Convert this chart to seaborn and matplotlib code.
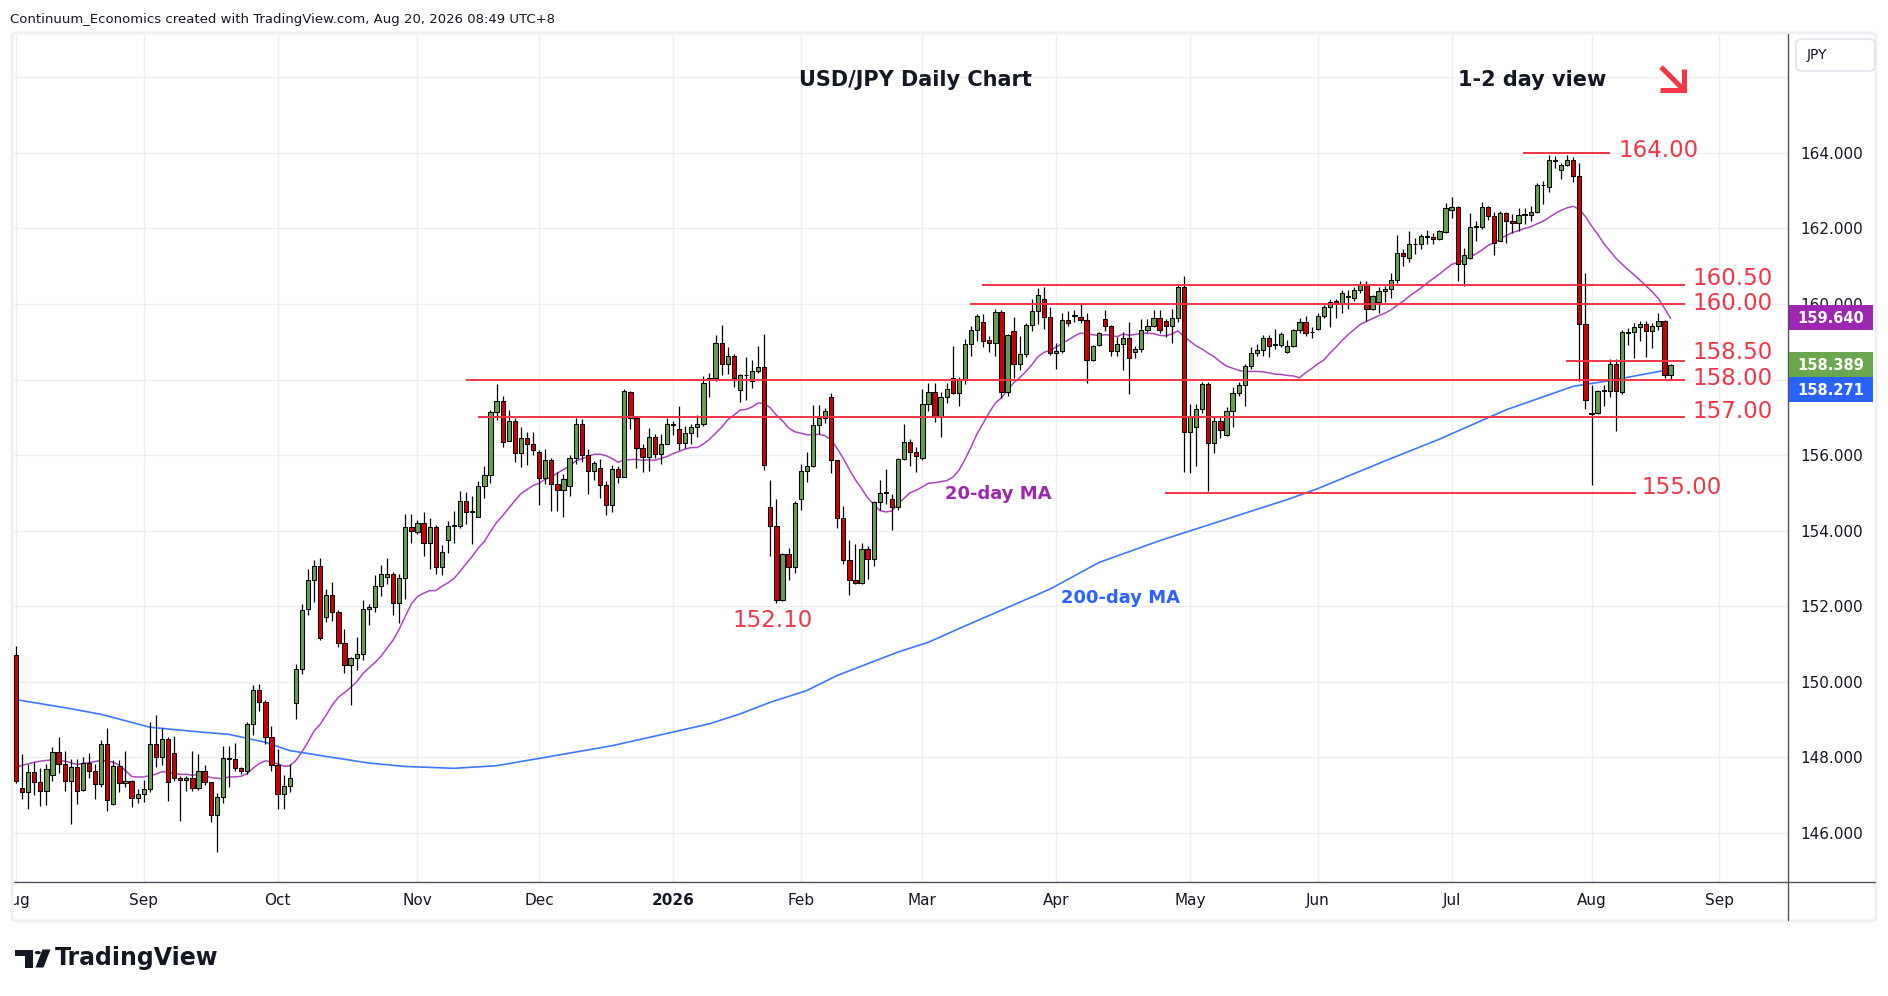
import numpy as np
import pandas as pd
import matplotlib
matplotlib.use("Agg")
import matplotlib.pyplot as plt
import seaborn as sns
from matplotlib.patches import Rectangle, FancyBboxPatch, Polygon, Circle
from matplotlib.lines import Line2D
from matplotlib.transforms import Bbox, TransformedBbox

# ---- daily USD/JPY candles, Aug 1 2025 .. Aug 20 2026 ----
opens = [
    150.71, 147.17, 147.08, 147.61, 147.33, 147.10, 147.53, 148.14, 147.82, 147.37,
    147.74, 147.12, 147.84, 147.63, 147.29, 148.35, 146.76, 147.77, 147.32, 147.37,
    146.92, 147.02, 147.16, 148.35, 148.00, 148.49, 148.11, 147.45, 147.40, 147.45,
    147.18, 147.63, 147.33, 146.47, 146.94, 147.98, 147.95, 147.71, 147.63, 148.88,
    149.78, 149.46, 148.53, 147.80, 147.02, 147.24, 149.43, 150.34, 151.91, 152.68,
    153.05, 151.72, 152.28, 151.83, 151.03, 150.43, 150.61, 150.74, 151.93, 151.97,
    152.54, 152.76, 152.86, 152.09, 152.73, 154.10, 153.95, 154.20, 153.66, 154.10,
    153.04, 153.76, 154.12, 154.13, 154.79, 154.52, 154.37, 155.17, 155.46, 157.13,
    157.44, 156.38, 156.91, 156.04, 156.46, 156.29, 156.07, 155.40, 155.86, 155.23,
    155.07, 155.18, 155.93, 156.81, 156.01, 155.58, 155.65, 155.21, 154.67, 155.62,
    155.43, 157.67, 156.99, 156.19, 155.95, 156.47, 156.02, 156.30, 156.83, 156.68,
    156.31, 156.57, 156.74, 156.81, 157.99, 158.05, 158.98, 158.40, 158.61, 157.73,
    158.11, 157.97, 158.22, 158.32, 154.61, 154.12, 152.15, 153.37, 153.04, 154.83,
    155.57, 155.71, 156.79, 156.99, 157.53, 155.86, 154.34, 153.21, 152.68, 152.62,
    153.50, 153.25, 154.75, 155.00, 154.83, 154.63, 155.89, 156.34, 156.07, 155.91,
    157.35, 157.66, 157.02, 157.53, 158.03, 157.64, 158.01, 158.94, 159.31, 159.51,
    159.05, 158.97, 159.78, 157.66, 159.28, 158.41, 158.68, 159.44, 159.81, 160.13,
    159.65, 158.70, 158.76, 159.58, 159.70, 159.65, 159.58, 158.52, 158.92, 159.60,
    159.43, 158.76, 158.94, 159.09, 158.72, 158.81, 159.31, 159.43, 159.63, 159.55,
    159.41, 159.62, 160.44, 156.60, 156.75, 157.23, 157.88, 156.33, 156.90, 156.52,
    157.16, 157.63, 157.85, 158.37, 158.71, 158.79, 159.09, 158.92, 158.92, 158.73,
    158.88, 159.31, 159.51, 159.26, 159.35, 159.68, 159.91, 160.07, 160.01, 160.19,
    160.17, 160.37, 160.54, 159.88, 160.06, 160.34, 160.39, 160.63, 161.36, 161.23,
    161.58, 161.58, 161.80, 161.78, 161.71, 161.91, 162.50, 162.56, 161.07, 161.22,
    162.05, 162.05, 162.56, 162.32, 161.68, 162.40, 162.21, 162.15, 162.37, 162.37,
    162.44, 163.14, 163.11, 163.80, 163.56, 163.69, 163.82, 163.38, 159.48, 157.11,
    157.11, 157.69, 157.70, 158.41, 157.67, 159.24, 159.25, 159.38, 159.47, 159.28,
    159.41, 159.56, 158.13,
]
highs = [
    150.93, 148.08, 147.82, 147.87, 147.70, 147.82, 148.26, 148.53, 148.17, 147.95,
    147.95, 148.00, 148.11, 147.82, 148.44, 148.78, 147.92, 147.91, 148.16, 147.40,
    147.16, 147.38, 148.94, 149.12, 148.76, 148.53, 148.56, 147.49, 147.49, 148.17,
    148.07, 147.79, 147.35, 147.05, 148.29, 148.29, 148.38, 147.73, 148.92, 149.92,
    149.94, 149.51, 148.83, 148.22, 147.51, 147.82, 150.47, 152.06, 152.99, 153.23,
    153.28, 152.44, 152.63, 151.89, 151.40, 150.65, 151.18, 152.17, 152.04, 152.81,
    153.08, 153.26, 152.90, 152.86, 154.45, 154.43, 154.27, 154.48, 154.34, 154.14,
    153.61, 154.25, 154.51, 155.04, 155.02, 154.91, 155.32, 155.72, 157.19, 157.89,
    157.56, 157.19, 156.97, 156.75, 156.61, 156.61, 156.13, 156.17, 155.91, 155.54,
    155.49, 156.00, 156.97, 156.95, 156.17, 155.84, 155.89, 155.31, 155.74, 155.71,
    157.74, 157.70, 157.03, 156.28, 156.71, 156.55, 156.55, 156.97, 156.90, 157.29,
    156.77, 156.81, 157.05, 158.09, 158.18, 159.18, 159.44, 158.86, 158.68, 158.14,
    158.60, 158.51, 158.89, 159.20, 155.33, 154.84, 153.40, 153.53, 154.78, 155.75,
    156.08, 157.32, 157.32, 157.25, 157.65, 155.88, 154.65, 153.74, 153.63, 153.68,
    153.60, 154.79, 155.34, 155.63, 154.97, 155.92, 156.82, 156.42, 156.20, 157.75,
    157.92, 157.92, 157.66, 157.92, 158.90, 158.06, 159.07, 159.43, 159.74, 159.74,
    159.16, 159.87, 159.84, 159.20, 159.66, 159.16, 159.49, 160.13, 160.42, 160.46,
    159.93, 158.98, 159.75, 159.82, 159.84, 160.03, 159.75, 158.92, 159.25, 159.84,
    159.45, 159.12, 159.25, 159.51, 158.90, 159.60, 159.60, 159.84, 159.85, 159.59,
    159.88, 160.50, 160.74, 157.35, 157.36, 157.94, 157.94, 157.00, 157.00, 157.28,
    157.79, 157.94, 158.42, 158.87, 158.95, 159.17, 159.17, 159.35, 159.26, 159.04,
    159.35, 159.62, 159.68, 159.40, 159.77, 159.97, 160.12, 160.12, 160.38, 160.37,
    160.45, 160.60, 160.60, 160.23, 160.44, 160.47, 160.81, 161.82, 161.47, 161.93,
    161.74, 161.85, 161.96, 161.87, 161.97, 162.68, 162.83, 162.60, 161.48, 162.41,
    162.19, 162.69, 162.59, 162.44, 162.47, 162.45, 162.38, 162.54, 162.54, 162.59,
    163.21, 163.25, 163.96, 163.91, 163.74, 163.94, 163.89, 163.74, 160.82, 157.86,
    157.73, 157.86, 158.53, 158.53, 159.32, 159.36, 159.50, 159.54, 159.54, 159.50,
    159.76, 159.58, 158.40,
]
lows = [
    147.31, 146.88, 146.62, 146.99, 146.70, 146.72, 147.37, 147.57, 147.09, 146.23,
    146.76, 147.09, 147.44, 146.88, 147.20, 146.57, 146.74, 147.08, 147.20, 146.67,
    146.79, 146.80, 147.07, 147.73, 147.80, 146.83, 147.36, 146.30, 147.09, 147.09,
    147.13, 147.25, 146.27, 145.48, 146.79, 147.20, 147.62, 147.54, 147.55, 148.58,
    149.23, 148.35, 147.64, 146.61, 146.63, 147.07, 149.01, 150.20, 151.76, 152.11,
    151.10, 151.58, 151.61, 150.92, 150.23, 149.39, 150.30, 150.58, 151.49, 151.85,
    152.26, 152.58, 151.77, 151.56, 152.19, 153.67, 153.92, 153.33, 152.99, 152.84,
    152.82, 153.41, 153.67, 154.07, 154.16, 153.63, 154.35, 154.85, 155.25, 156.92,
    156.22, 156.36, 155.82, 155.69, 155.73, 156.00, 154.67, 155.23, 154.52, 154.52,
    154.36, 154.92, 155.77, 155.82, 154.97, 155.33, 154.85, 154.40, 154.50, 155.27,
    155.41, 156.70, 155.66, 155.56, 155.58, 155.93, 155.75, 156.28, 156.53, 156.12,
    156.19, 156.30, 156.48, 156.77, 157.54, 157.96, 158.11, 158.15, 157.80, 157.41,
    157.47, 157.77, 158.18, 155.59, 153.32, 152.09, 152.12, 152.68, 152.87, 154.54,
    155.28, 155.69, 156.55, 156.86, 155.51, 154.06, 153.10, 152.28, 152.58, 152.57,
    152.72, 153.07, 154.54, 154.70, 154.01, 154.54, 155.86, 155.72, 155.54, 155.88,
    157.17, 156.87, 156.47, 157.37, 157.62, 157.31, 157.88, 158.63, 159.03, 158.85,
    158.72, 158.63, 157.51, 157.57, 158.04, 158.25, 158.59, 159.29, 159.47, 159.34,
    158.65, 158.28, 158.70, 159.43, 159.51, 159.49, 157.91, 158.50, 158.90, 159.29,
    158.63, 158.63, 158.26, 157.62, 158.57, 158.72, 159.25, 159.38, 159.22, 159.13,
    158.97, 159.53, 155.55, 155.51, 155.71, 157.10, 155.05, 156.04, 156.46, 156.50,
    156.75, 157.57, 157.30, 158.29, 158.62, 158.62, 158.60, 158.82, 158.87, 158.71,
    158.85, 159.22, 159.15, 159.11, 159.32, 159.62, 159.40, 159.62, 159.75, 159.88,
    160.08, 160.28, 159.55, 159.85, 159.77, 160.06, 160.15, 160.56, 161.01, 161.10,
    161.32, 161.47, 161.58, 161.58, 161.69, 161.89, 162.28, 160.60, 160.49, 161.20,
    161.66, 161.99, 162.23, 161.29, 161.66, 161.62, 161.88, 161.94, 162.12, 162.21,
    162.41, 162.65, 162.98, 163.60, 163.32, 163.65, 163.23, 157.95, 157.23, 155.21,
    157.09, 157.29, 157.53, 156.63, 157.62, 158.92, 158.57, 159.01, 158.59, 158.83,
    159.32, 158.04, 158.02,
]
closes = [
    147.37, 147.08, 147.61, 147.33, 147.10, 147.69, 148.14, 147.82, 147.37, 147.74,
    147.10, 147.84, 147.63, 147.29, 148.35, 146.87, 147.77, 147.32, 147.37, 146.92,
    147.02, 147.16, 148.35, 148.00, 148.49, 147.33, 147.45, 147.40, 147.45, 147.18,
    147.63, 147.33, 146.47, 146.94, 147.98, 147.95, 147.71, 147.63, 148.88, 149.78,
    149.46, 148.53, 147.80, 147.02, 147.24, 147.45, 150.34, 151.90, 152.68, 153.05,
    151.14, 152.28, 151.83, 151.03, 150.43, 150.61, 150.74, 151.93, 151.97, 152.54,
    152.86, 152.86, 152.09, 152.73, 154.10, 154.00, 154.20, 153.66, 154.10, 153.04,
    153.42, 154.13, 154.14, 154.79, 154.49, 154.49, 155.17, 155.46, 157.13, 157.44,
    156.34, 156.91, 156.04, 156.46, 156.29, 156.13, 155.40, 155.86, 155.23, 155.07,
    155.36, 155.93, 156.81, 156.01, 155.58, 155.78, 155.21, 154.67, 155.62, 155.43,
    157.69, 156.99, 156.19, 155.95, 156.47, 156.02, 156.30, 156.83, 156.79, 156.31,
    156.57, 156.74, 156.81, 157.90, 158.05, 158.98, 158.40, 158.61, 158.05, 158.11,
    158.12, 158.22, 158.32, 155.73, 154.12, 152.15, 153.37, 153.04, 154.72, 155.57,
    155.71, 156.79, 156.99, 157.17, 155.86, 154.34, 153.21, 152.68, 152.60, 153.50,
    153.25, 154.75, 154.99, 155.02, 154.63, 155.89, 156.34, 156.07, 155.98, 157.35,
    157.66, 157.02, 157.53, 157.75, 157.64, 158.01, 158.94, 159.31, 159.69, 159.03,
    158.97, 159.78, 157.66, 159.18, 158.41, 158.68, 159.44, 159.81, 160.24, 159.65,
    158.70, 158.76, 159.58, 159.50, 159.69, 159.58, 158.52, 158.90, 159.23, 159.43,
    158.76, 158.94, 159.09, 158.56, 158.81, 159.31, 159.43, 159.63, 159.31, 159.41,
    159.62, 160.44, 156.60, 157.01, 157.23, 157.88, 156.33, 156.90, 156.66, 157.16,
    157.63, 157.85, 158.37, 158.71, 158.79, 159.09, 158.89, 158.94, 159.20, 158.88,
    159.31, 159.51, 159.24, 159.25, 159.68, 159.91, 160.06, 160.01, 160.28, 160.21,
    160.37, 160.54, 159.88, 160.21, 160.34, 160.39, 160.63, 161.36, 161.27, 161.58,
    161.59, 161.80, 161.78, 161.71, 161.93, 162.53, 162.56, 161.07, 161.31, 162.05,
    162.07, 162.56, 162.32, 161.62, 162.40, 162.21, 162.15, 162.37, 162.39, 162.45,
    163.14, 163.15, 163.81, 163.81, 163.69, 163.82, 163.38, 159.48, 157.45, 157.09,
    157.69, 157.72, 158.41, 157.70, 159.25, 159.26, 159.38, 159.47, 159.29, 159.41,
    159.56, 158.13, 158.39,
]

ma20_head = [147.73, 147.78, 147.82, 147.86, 147.89, 147.91, 147.92, 147.91, 147.89, 147.85,
             147.80, 147.83, 147.85, 147.88, 147.91, 147.89, 147.86, 147.78, 147.64]

# 200-day MA (bar index, value)
ma200_idx = [0, 9, 14, 22, 29, 35, 41, 45, 50, 58, 64, 72, 79, 87, 98, 108, 114, 119, 124,
             130, 135, 140, 145, 150, 155, 160, 165, 170, 178, 188, 209, 214, 225, 234,
             245, 256, 262, 272]
ma200_val = [149.52, 149.28, 149.13, 148.79, 148.68, 148.60, 148.39, 148.17, 148.04, 147.84,
             147.75, 147.70, 147.77, 147.99, 148.30, 148.66, 148.88, 149.14, 149.45,
             149.76, 150.16, 150.47, 150.78, 151.04, 151.40, 151.75, 152.10, 152.45,
             153.15, 153.73, 154.82, 155.11, 155.84, 156.42, 157.20, 157.82, 157.97, 158.27]

levels = [164.00, 160.50, 160.00, 158.50, 158.00, 157.00, 155.00]
level_labels = ["164.00", "160.50", "160.00", "158.50", "158.00", "157.00", "155.00"]
low_value = "152.10"
last_ma20 = "159.640"
last_close = "158.389"
last_ma200 = "158.271"
skip_days = ["2025-12-25", "2026-01-01"]

# ---- layout helpers (pixel positions of the 1888x996 picture) ----
W, H = 1888, 996
UP, DN = "#65a04a", "#d00000"
LVL = "#f23645"
INK = "#131722"
PURPLE, BLUE = "#9c27b0", "#2962ff"


def fx(px):
    return px / W


def fy(py):
    return 1 - py / H


def px2x(px):
    return (px - 16) / 6.083


def py2p(py):
    return 164 - (py - 153) / 37.75


sns.set_theme(style="white")
plt.rcParams["font.family"] = ["DejaVu Sans"]

dates = pd.bdate_range("2025-08-01", "2026-09-30")
dates = dates[~dates.isin(pd.to_datetime(skip_days))]
n = len(closes)
df = pd.DataFrame({"open": opens, "high": highs, "low": lows, "close": closes})
df["date"] = dates[:n]
ma20 = df["close"].rolling(20).mean()
ma20.iloc[:19] = ma20_head
df["ma20"] = ma20

fig = plt.figure(figsize=(W / 100, H / 100), dpi=100)
fig.patch.set_facecolor("white")
ax = fig.add_axes([fx(13.5), fy(881.7), fx(1788) - fx(13.5), fy(34) - fy(881.7)])
ax.set_facecolor("white")
ax.set_xlim(-0.41, 291.3)
ax.set_ylim(py2p(881.7), py2p(34))

# month ticks at the first bar of each month
month_pos, month_lab = [], []
prev = None
for i, d in enumerate(dates):
    if prev is None or d.month != prev:
        month_pos.append(i)
        month_lab.append("2026" if d.month == 1 else d.strftime("%b"))
    prev = d.month
ax.set_xticks(month_pos)
ax.set_xticklabels(month_lab)
yt = np.arange(146, 167, 2)
ax.set_yticks(yt)
# 166 sits under the currency box and 158 under the last-value tags
ax.set_yticklabels(["" if v in (166, 158) else f"{v:.3f}" for v in yt])
ax.yaxis.tick_right()
ax.tick_params(axis="x", length=0, pad=8, labelsize=11, labelcolor=INK)
ax.tick_params(axis="y", length=0, pad=9, labelsize=11, labelcolor=INK)
for lab in ax.get_xticklabels():
    if lab.get_text() == "2026":
        lab.set_fontweight("bold")
clip = TransformedBbox(Bbox([[fx(13.5), 0], [1, 1]]), fig.transFigure)
first = ax.get_xticklabels()[0]
first.set_clip_box(clip)
first.set_clip_on(True)
ax.grid(True, color="#eceff3", lw=1)
ax.set_axisbelow(True)
for s in ax.spines.values():
    s.set_visible(False)

# moving averages
sns.lineplot(x=df.index, y=df["ma20"], ax=ax, color="#ab47bc", lw=1.1, zorder=2)
sns.lineplot(x=ma200_idx, y=ma200_val, ax=ax, color="#3b78ff", lw=1.2, zorder=2)
ax.set_xlabel("")
ax.set_ylabel("")

# candles
up = df["close"] >= df["open"]
ax.vlines(df.index, df["low"], df["high"], color="black", lw=0.9, zorder=3)
body_lo = np.minimum(df["open"], df["close"])
body_h = np.maximum((df["close"] - df["open"]).abs(), 0.012)
ax.bar(df.index, body_h, bottom=body_lo, width=0.7, color=np.where(up, UP, DN),
       edgecolor="black", linewidth=0.75, zorder=4)

# support / resistance drawings
level_span = [(247.7, 262.0), (158.8, 274.4), (156.8, 274.4), (254.8, 274.4),
              (74.0, 274.4), (76.0, 274.4), (188.9, 266.3)]
label_pix = [(1618, 150), (1692, 279), (1692, 303), (1692, 353), (1692, 378),
             (1692, 411), (1641, 487)]
for lv, lab, (x0, x1), (lx, ly) in zip(levels, level_labels, level_span, label_pix):
    ax.hlines(lv, x0, x1, color=LVL, lw=1.4, zorder=5)
    ax.text(px2x(lx), py2p(ly), lab, color=LVL, fontsize=16.5, ha="left", va="center",
            zorder=6)
ax.text(px2x(773), py2p(621), low_value, color=LVL, fontsize=16.5, ha="center",
        va="center", zorder=6)
ax.text(px2x(945), py2p(494), "20-day MA", color=PURPLE, fontsize=13, fontweight="bold",
        ha="left", va="center", zorder=6)
ax.text(px2x(1061), py2p(598), "200-day MA", color=BLUE, fontsize=13, fontweight="bold",
        ha="left", va="center", zorder=6)
ax.text(px2x(915), py2p(80), "USD/JPY Daily Chart", color=INK, fontsize=15,
        fontweight="bold", ha="center", va="center", zorder=6)
ax.text(px2x(1532), py2p(80), "1-2 day view", color=INK, fontsize=15,
        fontweight="bold", ha="center", va="center", zorder=6)

# down arrow
fig.add_artist(Line2D([fx(1661), fx(1682)], [fy(67), fy(88)], color=LVL, lw=3.6,
                      solid_capstyle="butt", zorder=7))
fig.add_artist(Line2D([fx(1684), fx(1684), fx(1660)], [fy(69), fy(90), fy(90)], color=LVL,
                      lw=3.6, solid_capstyle="butt", solid_joinstyle="miter", zorder=7))

# frame, axis separators
fig.add_artist(FancyBboxPatch((fx(12), fy(921)), fx(1876) - fx(12), fy(33) - fy(921),
                              boxstyle="round,pad=0,rounding_size=0.003",
                              transform=fig.transFigure, fill=False, ec="#eef0f4", lw=2.2,
                              zorder=1))
fig.add_artist(Line2D([fx(13.5), fx(1875)], [fy(881.7), fy(881.7)], color="#50535e", lw=1,
                      zorder=4))
fig.add_artist(Line2D([fx(1788), fx(1788)], [fy(34), fy(920)], color="#50535e", lw=1,
                      zorder=4))


# last value tags on the price scale
def price_tag(y0, y1, color, text):
    fig.add_artist(Rectangle((fx(1789), fy(y1)), fx(1873) - fx(1789), fy(y0) - fy(y1),
                             transform=fig.transFigure, fc=color, ec="none", zorder=8))
    fig.text(fx(1831), fy((y0 + y1) / 2 + 1), text, color="white", fontsize=10.5,
             fontweight="bold", va="center", ha="center", zorder=9)


price_tag(305, 330, PURPLE, last_ma20)
price_tag(352, 377, "#6aa84f", last_close)
price_tag(377, 402, BLUE, last_ma200)

fig.add_artist(FancyBboxPatch((fx(1796), fy(71)), fx(1875) - fx(1796), fy(39) - fy(71),
                              boxstyle="round,pad=0,rounding_size=0.004",
                              transform=fig.transFigure, fc="white", ec="#e0e3eb", lw=1.2,
                              zorder=8))
fig.text(fx(1807), fy(55), "JPY", color=INK, fontsize=10, va="center", ha="left", zorder=9)

# header and footer
fig.text(fx(10), fy(19), "Continuum_Economics created with TradingView.com, Aug 20, 2026 08:49 UTC+8",
         color=INK, fontsize=9.5, va="center", ha="left")
fig.add_artist(Polygon([(fx(15), fy(949.5)), (fx(33), fy(949.5)), (fx(33), fy(967.5)),
                        (fx(25), fy(967.5)), (fx(25), fy(955.5)), (fx(15), fy(955.5))],
                       closed=True, transform=fig.transFigure, fc=INK, ec="none"))
fig.add_artist(Circle((fx(37.8), fy(952.6)), 3.1 / W, transform=fig.transFigure,
                      fc=INK, ec="none"))
fig.add_artist(Polygon([(fx(42.5), fy(949.5)), (fx(50.5), fy(949.5)), (fx(43.5), fy(967.5)),
                        (fx(35.5), fy(967.5))], closed=True, transform=fig.transFigure,
                       fc=INK, ec="none"))
fig.text(fx(55), fy(958), "TradingView", color=INK, fontsize=17, fontweight="bold",
         va="center", ha="left")

fig.savefig("out.png", dpi=100, facecolor="white")
